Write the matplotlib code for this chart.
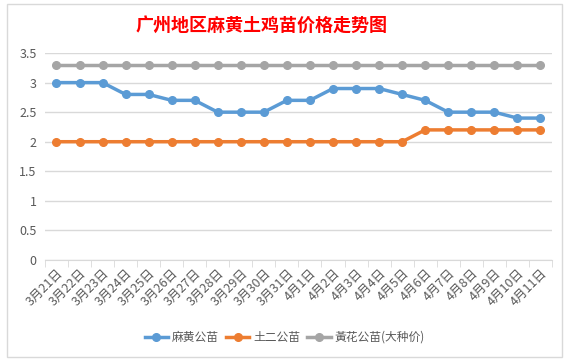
import matplotlib.pyplot as plt
import numpy as np
from matplotlib.patches import Rectangle

plt.rcParams['font.family'] = ['Noto Sans CJK SC', 'DejaVu Sans']

dates = ['3月21日', '3月22日', '3月23日', '3月24日', '3月25日', '3月26日', '3月27日',
         '3月28日', '3月29日', '3月30日', '3月31日', '4月1日', '4月2日', '4月3日',
         '4月4日', '4月5日', '4月6日', '4月7日', '4月8日', '4月9日', '4月10日', '4月11日']
mahuang = [3.0, 3.0, 3.0, 2.8, 2.8, 2.7, 2.7, 2.5, 2.5, 2.5, 2.7,
           2.7, 2.9, 2.9, 2.9, 2.8, 2.7, 2.5, 2.5, 2.5, 2.4, 2.4]
tuer = [2.0, 2.0, 2.0, 2.0, 2.0, 2.0, 2.0, 2.0, 2.0, 2.0, 2.0,
        2.0, 2.0, 2.0, 2.0, 2.0, 2.2, 2.2, 2.2, 2.2, 2.2, 2.2]
huanghua = [3.3] * 22

series = [
    ('麻黄公苗', mahuang, '#5B9BD5'),
    ('土二公苗', tuer, '#ED7D31'),
    ('黃花公苗(大种价)', huanghua, '#A5A5A5'),
]

fig = plt.figure(figsize=(5.69, 3.61), dpi=100)
fig.patches.append(Rectangle((0.012, 0.012), 0.976, 0.976, transform=fig.transFigure,
                             fill=False, edgecolor='#d9d9d9', linewidth=1))
ax = fig.add_axes([0.079, 0.280, 0.891, 0.573])

x = np.arange(len(dates))
for name, vals, color in series:
    ax.plot(x, vals, color=color, linewidth=2.5, marker='o', markersize=5.5, label=name)

ax.set_xlim(-0.5, len(dates) - 0.5)
ax.set_ylim(0, 3.5)
ax.set_yticks(np.arange(0, 3.51, 0.5))
ax.set_yticklabels(['0', '0.5', '1', '1.5', '2', '2.5', '3', '3.5'])
ax.yaxis.grid(True, color='#d9d9d9', linewidth=1)
ax.set_axisbelow(True)

ax.set_xticks(x)
ax.set_xticklabels(dates, rotation=45, ha='right', va='top', rotation_mode='anchor')
ax.set_xticks(np.arange(-0.5, len(dates)), minor=True)
ax.tick_params(axis='x', which='major', length=0, pad=5, labelsize=9, labelcolor='#595959')
ax.tick_params(axis='x', which='minor', length=5, color='#d9d9d9')
ax.tick_params(axis='y', length=0, labelsize=9, labelcolor='#595959', pad=6)

for side in ['top', 'right', 'left']:
    ax.spines[side].set_visible(False)
ax.spines['bottom'].set_color('#d9d9d9')

fig.text(0.459, 0.93, '广州地区麻黄土鸡苗价格走势图', ha='center', va='center',
         color='red', fontsize=13, fontweight='bold')

fig.legend(loc='center', bbox_to_anchor=(0.5, 0.066), ncol=3, frameon=False,
           fontsize=8.5, handlelength=2, columnspacing=0.6, handletextpad=0.3,
           labelcolor='#595959')

fig.savefig('out.png', dpi=100)
